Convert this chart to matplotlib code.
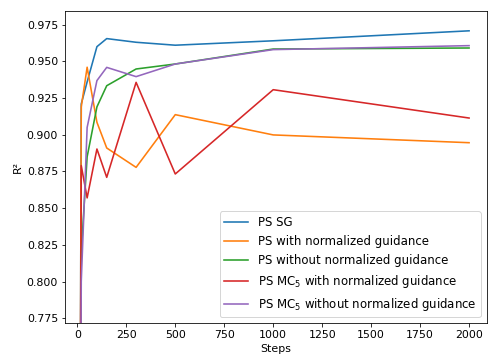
import matplotlib
matplotlib.use("Agg")
import matplotlib.pyplot as plt

steps = [10, 20, 50, 100, 150, 300, 500, 1000, 2000]

ps_sg = [0.50, 0.921, 0.936, 0.960, 0.9655, 0.963, 0.961, 0.964, 0.9708]
ps_norm = [0.50, 0.919, 0.946, 0.9085, 0.891, 0.8778, 0.9137, 0.8999, 0.8946]
ps_nonorm = [0.50, 0.82, 0.885, 0.919, 0.9334, 0.9448, 0.9482, 0.9584, 0.9591]
ps_mc_norm = [0.50, 0.879, 0.857, 0.8903, 0.871, 0.9357, 0.8733, 0.9307, 0.9114]
ps_mc_nonorm = [0.50, 0.80, 0.905, 0.9369, 0.9459, 0.9396, 0.9482, 0.9580, 0.9607]

labels = [
    "PS SG",
    "PS with normalized guidance",
    "PS without normalized guidance",
    r"PS MC$_5$ with normalized guidance",
    r"PS MC$_5$ without normalized guidance",
]

W, H = 494, 362
fig = plt.figure(figsize=(W / 72, H / 72), dpi=72)
ax = fig.add_axes([65 / W, 1 - 323.3 / H, (486.7 - 65) / W, (323.3 - 10.7) / H])

for ys, lab in zip([ps_sg, ps_norm, ps_nonorm, ps_mc_norm, ps_mc_nonorm], labels):
    ax.plot(steps, ys, label=lab, linewidth=1.6)

ax.set_xlim(-63, 2090)
ax.set_ylim(0.7716, 0.9845)
ax.set_xticks([0, 250, 500, 750, 1000, 1250, 1500, 1750, 2000])
ax.set_yticks([0.775, 0.800, 0.825, 0.850, 0.875, 0.900, 0.925, 0.950, 0.975])
ax.tick_params(labelsize=11)
ax.set_xlabel("Steps", fontsize=11)
ax.set_ylabel("R²", fontsize=11)
ax.legend(loc="lower right", fontsize=11.8)

fig.savefig("out.png", dpi=72)
